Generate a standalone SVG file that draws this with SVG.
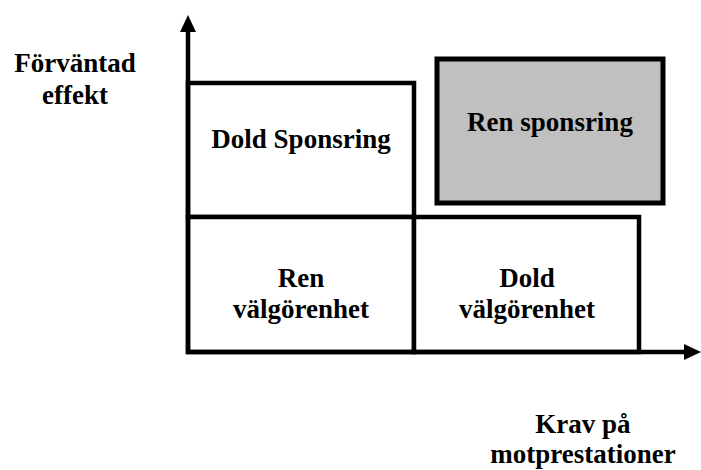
<svg xmlns="http://www.w3.org/2000/svg" width="701" height="470" viewBox="0 0 701 470">
<style>
.box{fill:#fff;stroke:#000;stroke-width:4.5}
.gray{fill:#c0c0c0;stroke:#000;stroke-width:5}
.axis{stroke:#000;stroke-width:4.5;fill:none}
text{font-family:"Liberation Serif","Times New Roman",serif;font-weight:bold;font-size:27px;text-anchor:middle;fill:#000}
</style>
<defs>
<marker id="ah" markerUnits="userSpaceOnUse" markerWidth="20" markerHeight="20" refX="0" refY="10" orient="auto" viewBox="0 0 20 20">
<path d="M0,2 L17,10 L0,18 Z" fill="#000"/>
</marker>
</defs>
<g id="node-dold-sponsring"><rect class="box" x="188" y="83" width="226" height="134"/><text x="301" y="148">Dold Sponsring</text></g>
<g id="node-ren-sponsring"><rect class="gray" x="437" y="59" width="226" height="144"/><text x="550" y="131">Ren sponsring</text></g>
<g id="node-ren-valgorenhet"><rect class="box" x="188" y="217" width="226" height="135"/><text x="301" y="287">Ren</text><text x="301" y="318">välgörenhet</text></g>
<g id="node-dold-valgorenhet"><rect class="box" x="414" y="217" width="225" height="135"/><text x="527" y="287">Dold</text><text x="527" y="318">välgörenhet</text></g>
<g id="connectors">
<line class="axis" x1="188" y1="354" x2="188" y2="32" marker-end="url(#ah)"/>
<line class="axis" x1="186" y1="352" x2="684" y2="352" marker-end="url(#ah)"/>
</g>
<g id="label-y"><text x="75" y="72">Förväntad</text><text x="75" y="104">effekt</text></g>
<g id="label-x"><text x="583" y="433">Krav på</text><text x="583" y="463">motprestationer</text></g>
</svg>
